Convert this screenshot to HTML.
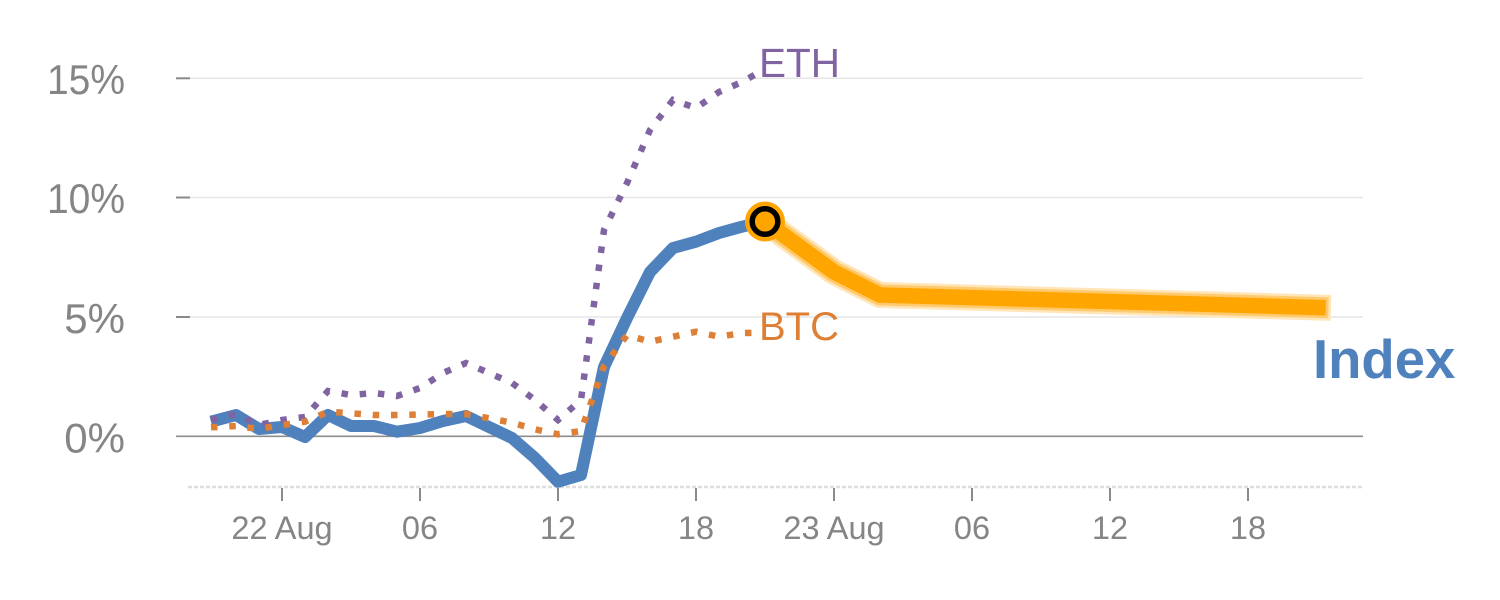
<!DOCTYPE html>
<html>
<head>
<meta charset="utf-8">
<style>
  html, body { margin:0; padding:0; background:#ffffff; }
  svg { display:block; }
  text { font-family: "Liberation Sans", Arial, sans-serif; }
</style>
</head>
<body>
<svg width="1500" height="600" viewBox="0 0 1500 600" xmlns="http://www.w3.org/2000/svg">
  <rect width="1500" height="600" fill="#ffffff"/>

  <!-- grid lines -->
  <g stroke="#e6e6e6" stroke-width="1.5">
    <line x1="190" y1="78.3" x2="1363" y2="78.3"/>
    <line x1="190" y1="197.5" x2="1363" y2="197.5"/>
    <line x1="190" y1="317" x2="1363" y2="317"/>
  </g>
  <g stroke="#8a8a8a" stroke-width="2">
    <line x1="176" y1="78.3" x2="190" y2="78.3"/>
    <line x1="176" y1="197.5" x2="190" y2="197.5"/>
    <line x1="176" y1="317" x2="190" y2="317"/>
  </g>
  <!-- zero line -->
  <line x1="176" y1="436.3" x2="1363" y2="436.3" stroke="#8c8c8c" stroke-width="1.6"/>

  <!-- bottom dashed axis -->
  <line x1="188" y1="487" x2="1363" y2="487" stroke="#dedede" stroke-width="2.5" stroke-dasharray="4 2"/>

  <!-- x ticks -->
  <g stroke="#8a8a8a" stroke-width="2">
    <line x1="282" y1="488" x2="282" y2="501"/>
    <line x1="420" y1="488" x2="420" y2="501"/>
    <line x1="558" y1="488" x2="558" y2="501"/>
    <line x1="696" y1="488" x2="696" y2="501"/>
    <line x1="834" y1="488" x2="834" y2="501"/>
    <line x1="972" y1="488" x2="972" y2="501"/>
    <line x1="1110" y1="488" x2="1110" y2="501"/>
    <line x1="1248" y1="488" x2="1248" y2="501"/>
  </g>

  <!-- y labels -->
  <g fill="#858585" font-size="42" text-anchor="end">
    <text x="125" y="94" textLength="78" lengthAdjust="spacingAndGlyphs">15%</text>
    <text x="125" y="213" textLength="78" lengthAdjust="spacingAndGlyphs">10%</text>
    <text x="125" y="333">5%</text>
    <text x="125" y="452.5">0%</text>
  </g>

  <!-- x labels -->
  <g fill="#858585" font-size="32.5" text-anchor="middle">
    <text x="282" y="539">22 Aug</text>
    <text x="420" y="539">06</text>
    <text x="558" y="539">12</text>
    <text x="696" y="539">18</text>
    <text x="834" y="539">23 Aug</text>
    <text x="972" y="539">06</text>
    <text x="1110" y="539">12</text>
    <text x="1248" y="539">18</text>
  </g>

  <!-- Index (blue) -->
  <polyline fill="none" stroke="#4f81bd" stroke-width="12" stroke-linejoin="round" stroke-linecap="butt"
    points="211,421.7 236,415 259,429 282,427 305,437 328,415 351,426 374,426 397,431.7 420,428 443,421 466,416 489,427 512,438 535,458 558,481.7 581,475 604,367 627,318 650,272 673,248 696,241.7 719,233 742,226.7 765,221.5"/>

  <!-- ETH (purple dotted) -->
  <polyline fill="none" stroke="#8064a2" stroke-width="6.5" stroke-dasharray="6.5 11.8" stroke-linejoin="miter"
    points="211,420 236,414 259,425 282,420 305,417 328,391 351,395 374,393 397,396 420,388 443,373 466,363 489,373 512,383 535,400 558,420 581,400 604,230 627,183 650,130 673,100 696,108 719,92 742,82 763,70"/>

  <!-- BTC (orange dotted) -->
  <polyline fill="none" stroke="#de7f36" stroke-width="6.5" stroke-dasharray="6.5 11.8" stroke-linejoin="miter"
    points="211,427.3 236,426 259,429 282,425 305,421.7 328,411.7 351,413.3 374,415 397,415 420,414.5 443,414 466,414 489,418.3 512,422.7 535,429.3 558,434.3 581,431 604,366 627,335 650,341.7 673,336.7 696,331.7 719,336.7 742,333 762,332.7"/>

  <!-- forecast (orange highlight) -->
  <polyline fill="none" stroke="#ffe5b8" stroke-width="26" stroke-linejoin="miter" stroke-linecap="square"
    points="765,221.5 834,272 880,295 1318,307.5"/>
  <polyline fill="none" stroke="#ffca6e" stroke-width="21" stroke-linejoin="miter" stroke-linecap="square"
    points="765,221.5 834,272 880,295 1318,307.5"/>
  <polyline fill="none" stroke="#ffa500" stroke-width="15.5" stroke-linejoin="miter" stroke-linecap="square"
    points="765,221.5 834,272 880,295 1318,307.5"/>

  <!-- marker -->
  <circle cx="765" cy="221.5" r="20" fill="#ffa500"/>
  <circle cx="765" cy="221.5" r="12.8" fill="#ffa500" stroke="#000000" stroke-width="5.5"/>

  <!-- series labels -->
  <text x="759" y="77" font-size="40.5" fill="#8064a2">ETH</text>
  <text x="759" y="340" font-size="40" fill="#de7f36">BTC</text>
  <text x="1313" y="378" font-size="54.5" font-weight="bold" fill="#4f81bd">Index</text>
</svg>
</body>
</html>
